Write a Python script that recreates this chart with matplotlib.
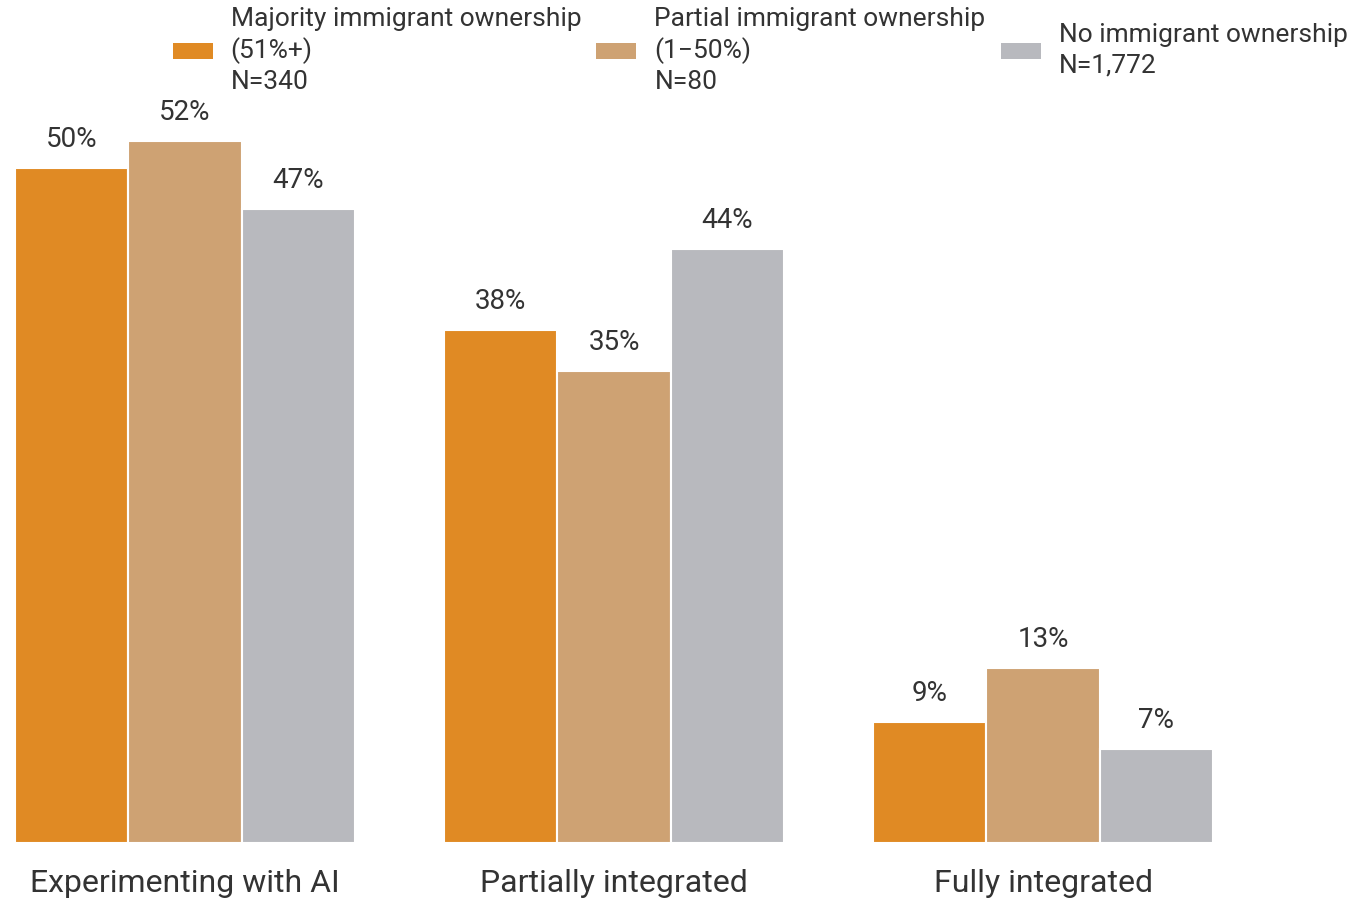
import matplotlib
matplotlib.use('Agg')
import matplotlib.pyplot as plt
from matplotlib.patches import Patch
import numpy as np

plt.rcParams['font.family'] = ['Roboto', 'DejaVu Sans']

categories = ['Experimenting with AI', 'Partially integrated', 'Fully integrated']
series_names = ['Majority immigrant ownership\n(51%+)\nN=340',
                'Partial immigrant ownership\n(1\u221250%)\nN=80',
                'No immigrant ownership\nN=1,772']
majority = [50, 38, 9]
partial = [52, 35, 13]
none_ = [47, 44, 7]
colors = ['#E08A24', '#CEA273', '#B8B9BE']
txt = '#333333'

fig = plt.figure(figsize=(13.6, 9), dpi=100)
ax = fig.add_axes([0, 1 - 843/900, 1, 843/900])

x = np.arange(len(categories))
w = 0.264
for i, (vals, c) in enumerate(zip([majority, partial, none_], colors)):
    pos = x + (i - 1) * w
    bars = ax.bar(pos, vals, width=w, color=c, edgecolor='white', linewidth=1.5)
    for b, v in zip(bars, vals):
        ax.text(b.get_x() + b.get_width()/2, v + 1.1, f'{v}%', ha='center', va='bottom',
                fontsize=20, color=txt)

ax.set_xlim(-185/429, (1360-185)/429)
ax.set_ylim(0, 843/13.5)
ax.set_xticks(x)
ax.set_xticklabels(categories, fontsize=23, color=txt)
ax.tick_params(axis='x', length=0, pad=19)
ax.set_yticks([])
for s in ax.spines.values():
    s.set_visible(False)

handles = [Patch(facecolor=c, edgecolor='none') for c in colors]
leg = fig.legend(handles, series_names, loc='upper left', bbox_to_anchor=(170/1360, 1 - 4/900),
                 ncol=3, frameon=False, fontsize=19, labelcolor=txt,
                 handlelength=1.52, handleheight=0.55, handletextpad=0.68, columnspacing=0.57,
                 borderaxespad=0, borderpad=0.1)
for t in leg.get_texts():
    t.set_linespacing(1.32)

fig.savefig('out.png', dpi=100)
